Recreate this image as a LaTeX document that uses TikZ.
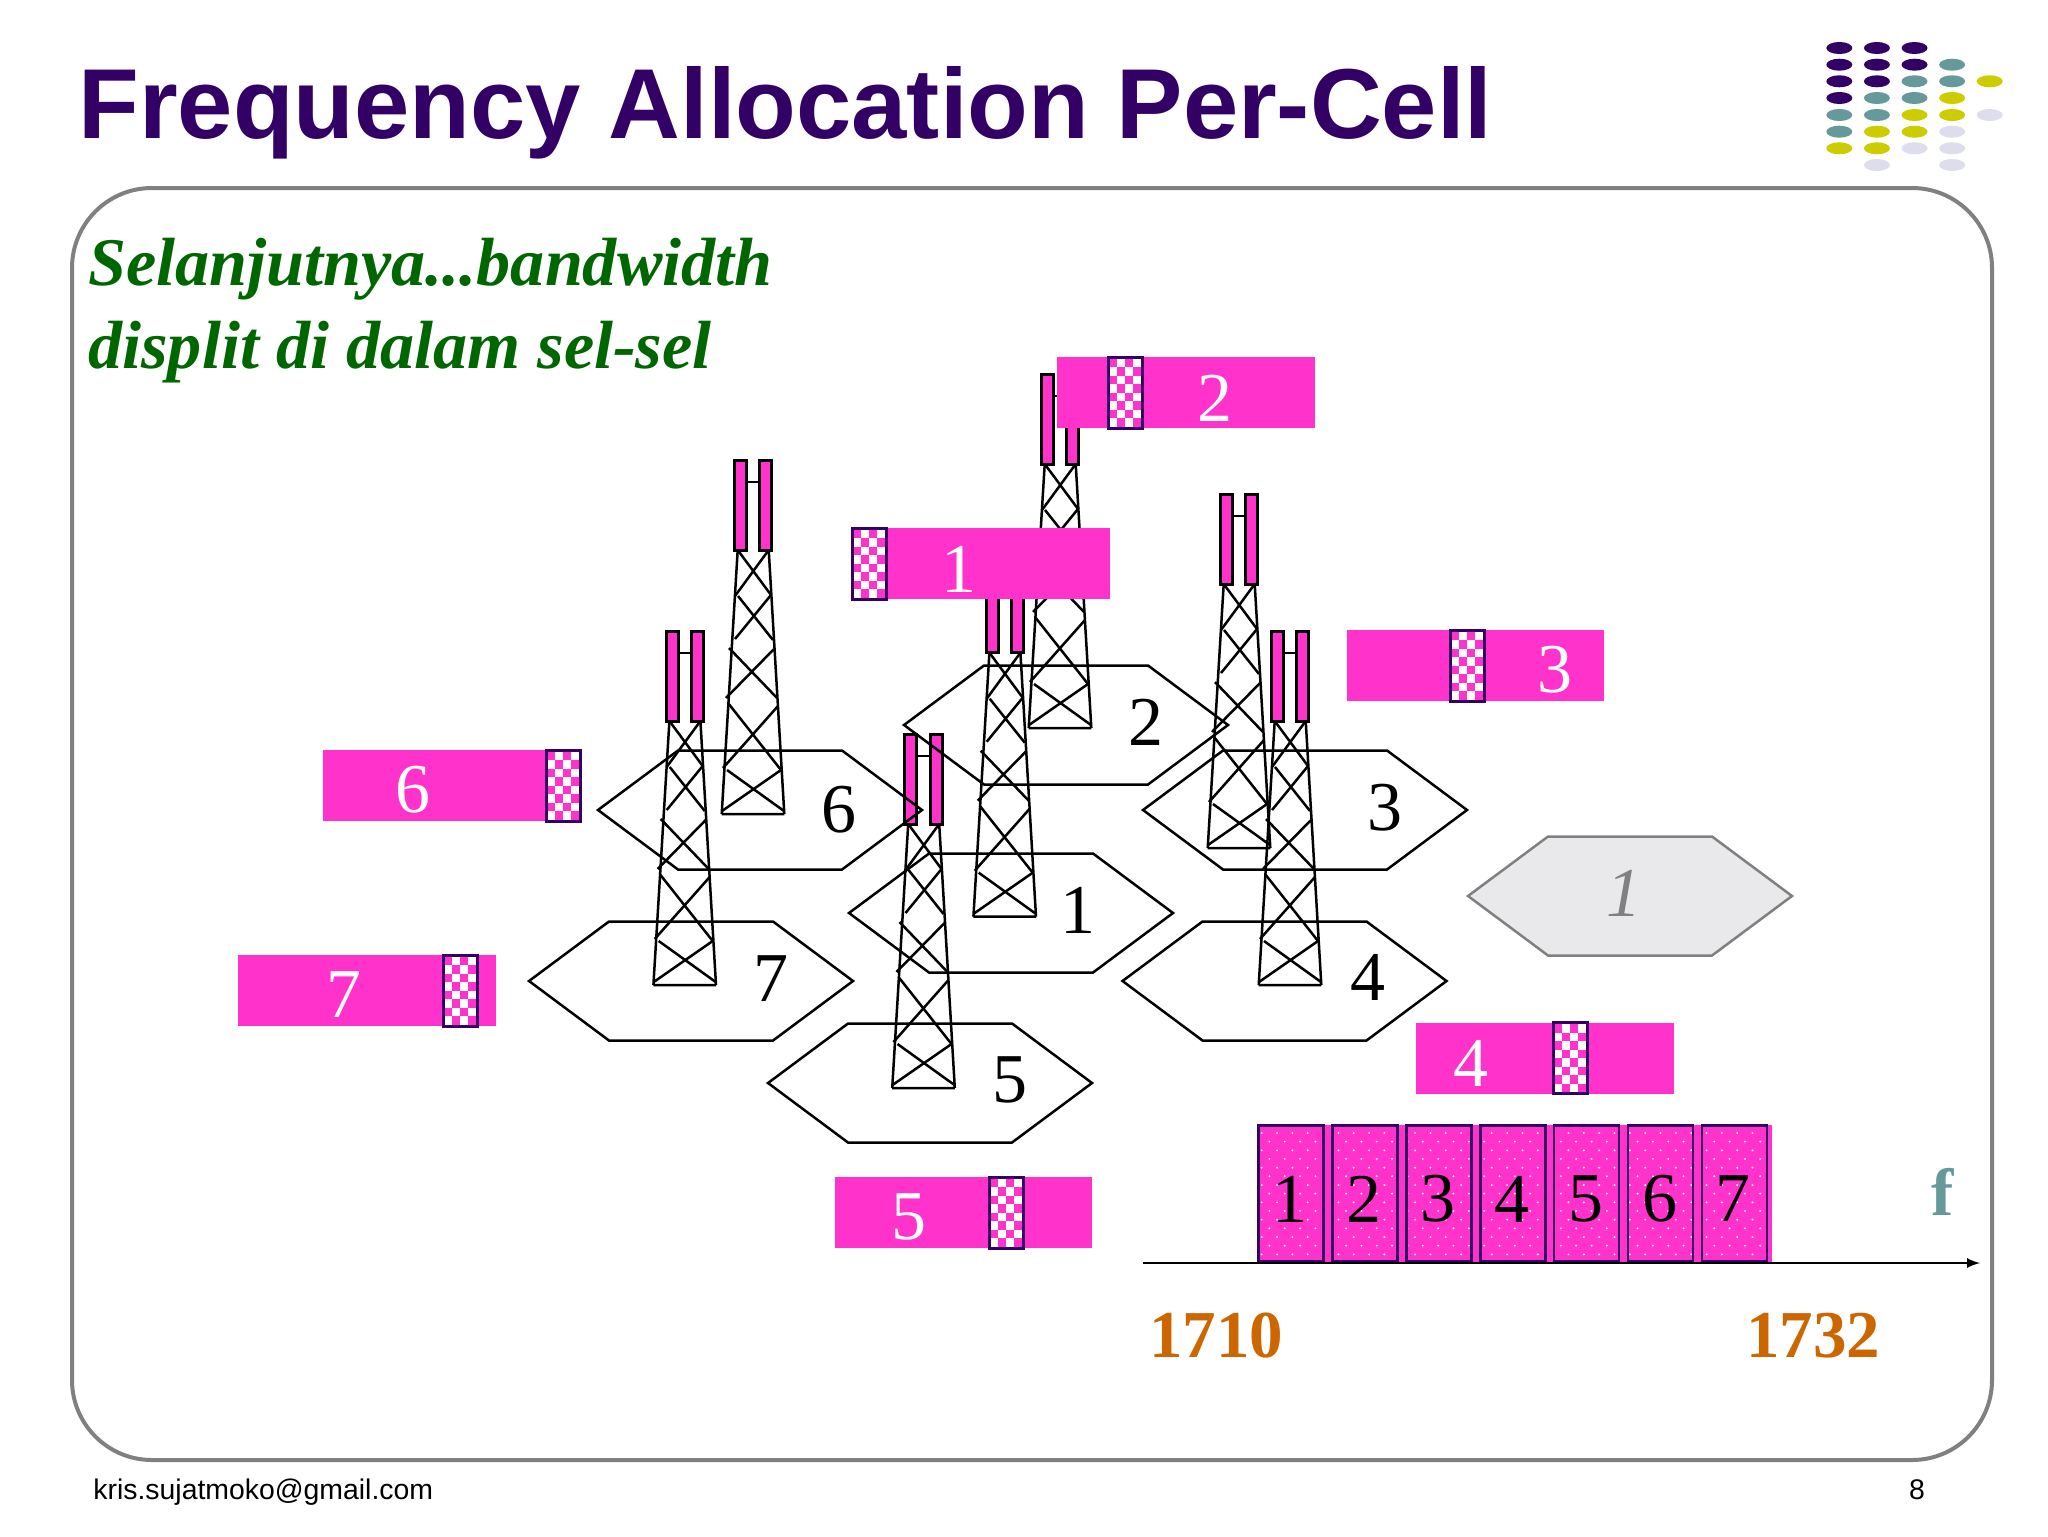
\documentclass[tikz,border=0pt]{standalone}
\usepackage{fontspec}
\setmainfont{Liberation Serif}
\setsansfont{Liberation Sans}
\usetikzlibrary{patterns}
\definecolor{titlepurple}{HTML}{330066}
\definecolor{dotteal}{HTML}{669999}
\definecolor{dotyellow}{HTML}{CCCC00}
\definecolor{dotlilac}{HTML}{DDDDEE}
\definecolor{bandpink}{HTML}{FF33CC}
\definecolor{cellgrey}{HTML}{E9E8EB}
\definecolor{textgreen}{HTML}{006600}
\definecolor{textorange}{HTML}{CC6600}
\pgfdeclarepatternformonly{channeldots}{\pgfqpoint{-1pt}{-1pt}}{\pgfqpoint{8.7pt}{9.7pt}}{\pgfqpoint{7.67pt}{8.67pt}}{
  \pgfpathcircle{\pgfqpoint{1.9pt}{2.1pt}}{0.55pt}
  \pgfpathcircle{\pgfqpoint{5.75pt}{6.45pt}}{0.55pt}
  \pgfusepath{fill}
}
\tikzset{
  bandbox/.style={fill=bandpink,minimum width=128.75pt,minimum height=35.5pt,inner sep=0pt},
  chanbox/.style={draw=titlepurple,line width=1.3pt,pattern=channeldots,pattern color=white,minimum width=32.5pt,minimum height=68pt,inner sep=0pt},
  bignum/.style={font=\fontsize{35}{40}\selectfont,inner sep=0pt},
  freqnum/.style={font=\bfseries\fontsize{33.5}{40}\selectfont,text=textorange,inner sep=0pt},
  pics/tower/.style={code={
    \draw[line width=1.25pt] (-31.3,0) -- (-15.3,-264) (31.3,0) -- (15.7,-264) (-31.3,0) -- (31.3,0);
    \draw[line width=1.25pt] (-15.3,-264) -- (18,-219) (15.7,-264) -- (-18,-218);
    \draw[line width=1.25pt] (-15,-218) -- (20,-174) (18,-219) -- (-18,-175);
    \draw[line width=1.25pt] (-24,-166) -- (24,-116) (21,-165) -- (-27,-116);
    \draw[line width=1.25pt] (-25,-111) -- (28,-44) (25,-108) -- (-30,-46);
    \draw[line width=1.25pt] (-26,-44) -- (31,-3) (28,-44) -- (-31,-3);
    \draw[line width=1.25pt] (-7,-332) -- (7,-332);
    \draw[line width=1.5pt,fill=bandpink] (-18.7,-354) rectangle (-6.7,-264);
    \draw[line width=1.5pt,fill=bandpink] (6.7,-354) rectangle (18.7,-264);
  }},
  pics/cell/.style={code={
    \draw[line width=1.25pt,#1] (-162,0) -- (-82,-59.5) -- (82,-59.5) -- (162,0) -- (82,59.5) -- (-82,59.5) -- cycle;
  }},
  pics/checker/.style={code={
    \foreach \i in {0,...,3} \foreach \j in {0,...,7} {
      \pgfmathparse{int(mod(\i+\j,2))}
      \ifnum\pgfmathresult=1 \fill[white] (1.5+\i*7.75,1.5+\j*8.5) rectangle ++(7.75,8.5); \fi
    }
    \draw[line width=1.5pt,draw=titlepurple] (0,0) rectangle (34,71);
  }}
}
\begin{document}
\begin{tikzpicture}[x=0.5pt,y=-0.5pt]
  \useasboundingbox (0,0) rectangle (2048,1536);
  % title and corner dots
  \node[anchor=base west,inner sep=0pt,text=titlepurple,font=\sffamily\bfseries\fontsize{49.7}{54}\selectfont] (title) at (78,138) {Frequency Allocation Per-Cell};
  \foreach \row/\y/\cols in {0/48/{1/titlepurple,2/titlepurple,3/titlepurple},
      1/64.7/{1/titlepurple,2/titlepurple,3/titlepurple,4/dotteal},
      2/81.3/{1/titlepurple,2/titlepurple,3/dotteal,4/dotteal,5/dotyellow},
      3/98/{1/titlepurple,2/dotteal,3/dotteal,4/dotyellow},
      4/115/{1/dotteal,2/dotteal,3/dotyellow,4/dotyellow,5/dotlilac},
      5/131.7/{1/dotteal,2/dotyellow,3/dotyellow,4/dotlilac},
      6/148.3/{1/dotyellow,2/dotyellow,3/dotlilac,4/dotlilac},
      7/165/{2/dotlilac,4/dotlilac}} {
    \foreach \c/\col in \cols {
      \fill[\col] ({1839.3+(\c-1)*37.6},\y) ellipse (13 and 6);
    }
  }
  % frame
  \draw[line width=2pt,draw=gray,rounded corners=40pt] (72,188) rectangle (1992,1460);
  \node[anchor=base west,inner sep=0pt,align=left,text=textgreen,font=\bfseries\itshape\fontsize{34.1}{41}\selectfont] (intro1) at (88,285) {Selanjutnya...bandwidth};
  \node[anchor=base west,inner sep=0pt,align=left,text=textgreen,font=\bfseries\itshape\fontsize{34.1}{41}\selectfont] (intro2) at (88,368) {displit di dalam sel-sel};
  % towers
  \foreach \n/\x/\y in {6/753/814,2/1060/728,3/1239/848,1/1004.7/916.7,7/684.7/985,4/1290/985,5/923.5/1088} {
    \pic at (\x,\y) {tower};
  }
  % cells
  \foreach \n/\x/\y/\tx/\ty in {1/1011/913/1078/910,2/1066/725/1146/722,3/1305/810/1385/808,4/1284.5/981/1368/977,5/930/1083/1010/1080,6/760/810/839/810,7/691/981/771/979} {
    \pic at (\x,\y) {cell={black}};
    \node[bignum] (cell\n) at (\tx,\ty) {\n};
  }
  \pic at (1630,896) {cell={draw=gray,fill=cellgrey}};
  \node[bignum,text=gray,font=\itshape\fontsize{35}{40}\selectfont] (cellone) at (1624,893) {1};
  % bands
  \foreach \n/\x/\y/\cx/\tx/\ty in {1/852/528/852/959/569,2/1057/357/1108/1215/398,3/1346.5/630/1450/1555/670,4/1415.7/1022.6/1553/1471/1063,5/834.5/1177/989/909/1217,6/322.6/750/546/413/790,7/237.7/955/443/344/995} {
    \node[bandbox,anchor=north west] (band\n) at (\x,\y) {};
    \pic at (\cx,\y) {checker};
    \node[bignum,text=white] (bandnum\n) at (\tx,\ty) {\n};
  }
  % channels on the axis
  \fill[bandpink] (1258,1125) rectangle (1772,1262);
  \foreach \n in {1,...,7} {
    \node[chanbox] (chan\n) at ({1291+(\n-1)*73.9},1193.5) {};
    \node[bignum] (channum\n) at ({1290+(\n-1)*73.9},1199) {\n};
  }
  \coordinate (axisstart) at (1143,1263);
  \coordinate (axisend) at (1980,1263);
  \draw[line width=1.2pt,-latex] (axisstart) -- (axisend);
  \node[inner sep=0pt,text=dotteal,font=\bfseries\fontsize{33.5}{40}\selectfont] (flabel) at (1943,1192) {f};
  \node[freqnum] (flow) at (1216,1336) {1710};
  \node[freqnum] (fhigh) at (1813,1336) {1732};
  % footer
  \node[anchor=base west,inner sep=0pt,font=\sffamily\fontsize{14.2}{16}\selectfont] (mail) at (93,1499) {kris.sujatmoko@gmail.com};
  \node[anchor=base,inner sep=0pt,font=\sffamily\fontsize{14.2}{16}\selectfont] (pagenum) at (1917,1499) {8};
\end{tikzpicture}
\end{document}
